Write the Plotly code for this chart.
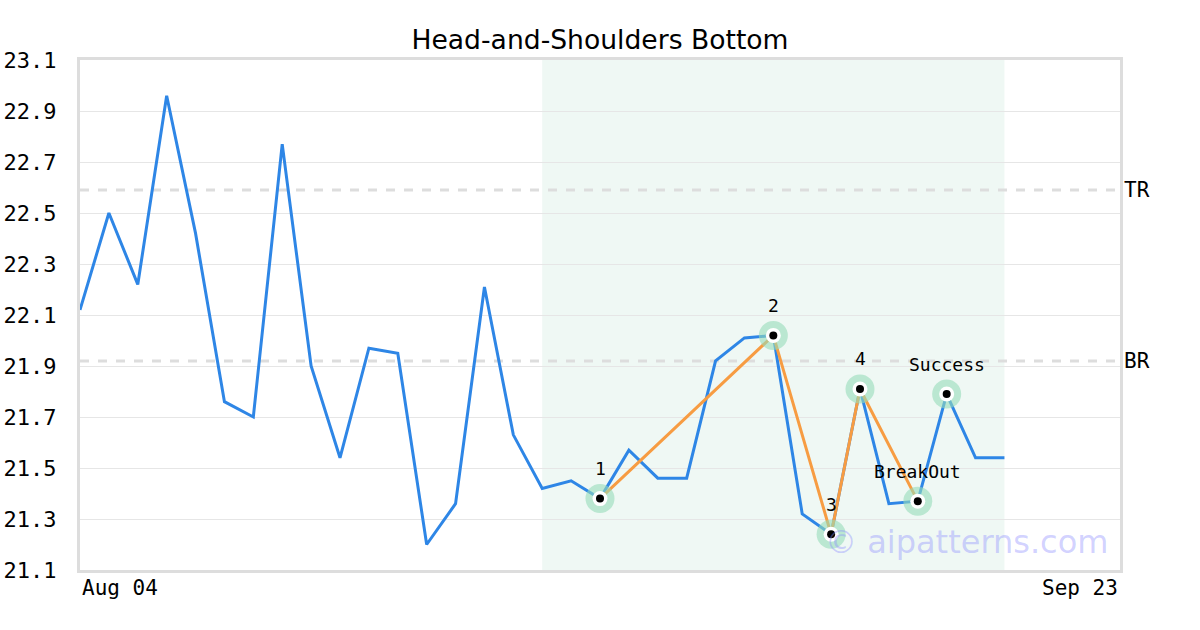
import plotly.graph_objects as go

prices = [22.12, 22.50, 22.22, 22.96, 22.42, 21.76, 21.70, 22.77, 21.90, 21.54,
          21.97, 21.95, 21.20, 21.36, 22.21, 21.63, 21.42, 21.45, 21.38, 21.57,
          21.46, 21.46, 21.92, 22.01, 22.02, 21.32, 21.24, 21.81, 21.36, 21.37,
          21.79, 21.54, 21.54]
idx = list(range(len(prices)))

pattern_idx = [18, 24, 26, 27, 29]
pattern_labels = ["1", "2", "3", "4", "BreakOut"]
success_idx = 30
success_label = "Success"

tr_level = 22.59
br_level = 21.92
zone = [16, 32]
x_range = [0, 36]
y_ticks = [21.1, 21.3, 21.5, 21.7, 21.9, 22.1, 22.3, 22.5, 22.7, 22.9, 23.1]
x_labels = ["Aug 04", "Sep 23"]

mono = "DejaVu Sans Mono"

fig = go.Figure()

fig.add_trace(go.Scatter(x=idx, y=prices, mode="lines",
                         line=dict(color="#2e86e6", width=3), hoverinfo="skip"))

px = pattern_idx
py = [prices[i] for i in px]
fig.add_trace(go.Scatter(x=px, y=py, mode="lines",
                         line=dict(color="#f79c42", width=3), hoverinfo="skip"))

mx = pattern_idx + [success_idx]
my = [prices[i] for i in mx]
mt = pattern_labels + [success_label]
fig.add_trace(go.Scatter(x=mx, y=my, mode="markers",
                         marker=dict(size=29, color="rgba(150,220,185,0.6)", line=dict(width=0))))
fig.add_trace(go.Scatter(x=mx, y=my, mode="markers",
                         marker=dict(size=15, color="white", line=dict(width=0))))
fig.add_trace(go.Scatter(x=mx, y=my, mode="markers",
                         marker=dict(size=8, color="black", line=dict(width=0))))

for xv, yv, t in zip(mx, my, mt):
    fig.add_annotation(x=xv, y=yv, text=t, showarrow=False, yshift=30,
                       font=dict(family=mono, size=18, color="black"))

fig.add_shape(type="rect", xref="x", yref="paper", x0=zone[0], x1=zone[1], y0=0, y1=1,
              fillcolor="#eff8f4", line=dict(width=0), layer="below")

for lvl, name in [(tr_level, "TR"), (br_level, "BR")]:
    fig.add_shape(type="line", xref="paper", yref="y", x0=0, x1=1, y0=lvl, y1=lvl,
                  line=dict(color="#dddddd", width=3, dash="dash"), layer="below")
    fig.add_annotation(xref="paper", yref="y", x=1, y=lvl, text=name, showarrow=False,
                       xanchor="left", xshift=2, font=dict(family=mono, size=21, color="black"))

fig.add_annotation(xref="x", yref="paper", x=x_range[0], y=0, yshift=-4, text=x_labels[0],
                   showarrow=False, xanchor="left", yanchor="top",
                   font=dict(family=mono, size=21, color="black"))
fig.add_annotation(xref="x", yref="paper", x=x_range[1], y=0, yshift=-4, text=x_labels[1],
                   showarrow=False, xanchor="right", yanchor="top",
                   font=dict(family=mono, size=21, color="black"))

fig.add_annotation(xref="paper", yref="paper", x=0.99, y=0.055, text="© aipatterns.com",
                   showarrow=False, xanchor="right", yanchor="middle",
                   font=dict(family="DejaVu Sans", size=32, color="rgba(140,140,255,0.4)"))

fig.update_layout(
    width=1200, height=630,
    margin=dict(l=80, r=80, t=60, b=60, autoexpand=False),
    paper_bgcolor="white", plot_bgcolor="white",
    showlegend=False,
    title=dict(text="Head-and-Shoulders Bottom", x=0.5, xanchor="center",
               yref="container", y=1 - 40 / 630, yanchor="middle", automargin=False,
               font=dict(family="DejaVu Sans", size=26.6, color="black")),
    xaxis=dict(range=x_range, showgrid=False, showticklabels=False, zeroline=False,
               showline=True, linecolor="#dddddd", linewidth=3, mirror=True, ticks="",
               automargin=False),
    yaxis=dict(range=[21.1, 23.1], tickvals=y_ticks, ticktext=[f"{v:.1f}" for v in y_ticks],
               showgrid=True, gridcolor="#e6e6e6", gridwidth=1, zeroline=False,
               showline=True, linecolor="#dddddd", linewidth=3, mirror=True,
               ticks="", ticklabelstandoff=16, automargin=False,
               tickfont=dict(family=mono, size=22, color="black")),
)

fig.write_html("out.html", config={"displayModeBar": False},
               post_script="document.body.style.margin='0';document.body.style.overflow='hidden';")
